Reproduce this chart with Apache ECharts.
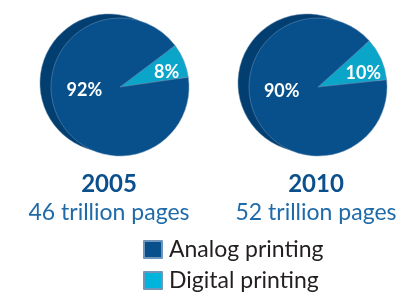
<!DOCTYPE html>
<html>
<head>
<meta charset="utf-8">
<script src="https://cdn.jsdelivr.net/npm/echarts@6/dist/echarts.min.js"></script>
<style>
  html, body { margin: 0; padding: 0; background: #fff; }
  #chart { width: 406px; height: 297px; }
</style>
</head>
<body>
<div id="chart"></div>
<script>
const years = ['2005', '2010'];
const totals = ['46 trillion pages', '52 trillion pages'];
const categories = ['Digital printing', 'Analog printing'];
const digital = [8, 10];
const analog = [92, 90];

const faceColor = '#07508b';
const edgeColor = '#033e70';
const digitalColor = '#0aa5c9';
const fontFamily = 'Lato, "Noto Sans", sans-serif';

const centersX = [120, 318];
const starts = [37, 42];
// label nudges so the numbers sit where the original puts them
const bigOffset = [[-1, -11], [-2, -11]];
const smallOffset = [[12, 0], [11, 1]];

const series = [];
years.forEach((y, i) => {
    // dark rim behind the face
    series.push({
        type: 'pie',
        silent: true,
        center: [centersX[i] - 11, 83],
        radius: [0, 69],
        startAngle: starts[i],
        label: { show: false },
        labelLine: { show: false },
        itemStyle: { color: edgeColor, borderColor: '#5d86ad', borderWidth: 0.5 },
        data: [{ name: 'rim', value: 100 }]
    });
    series.push({
        type: 'pie',
        name: y,
        center: [centersX[i], 87],
        radius: [0, 69],
        startAngle: starts[i],
        clockwise: true,
        itemStyle: { borderColor: '#6f95bb', borderWidth: 0.5 },
        label: {
            show: true,
            position: 'inner',
            color: '#fff',
            fontFamily: fontFamily,
            fontWeight: 'bold',
            fontSize: 18,
            formatter: '{c}%'
        },
        data: [
            { name: categories[0], value: digital[i], itemStyle: { color: digitalColor },
              label: { offset: smallOffset[i] } },
            { name: categories[1], value: analog[i], itemStyle: { color: faceColor },
              label: { offset: bigOffset[i] } }
        ]
    });
});

const option = {
    animation: false,
    title: years.map((y, i) => ({
        text: y,
        subtext: totals[i],
        left: [104, 311][i],
        top: 165,
        textAlign: 'center',
        itemGap: 2,
        textStyle: { color: '#0b4f8c', fontSize: 24, fontWeight: 'bold', fontFamily: fontFamily, lineHeight: 28 },
        subtextStyle: { color: '#1f6aa8', fontSize: 23, fontFamily: fontFamily, lineHeight: 26 }
    })),
    legend: {
        orient: 'vertical',
        left: 143,
        top: 238,
        height: 60,
        itemWidth: 18,
        itemHeight: 17,
        itemGap: 8,
        icon: 'rect',
        padding: 0,
        data: [
            { name: categories[1], itemStyle: { color: faceColor } },
            { name: categories[0], itemStyle: { color: '#00b4dc' } }
        ],
        textStyle: { color: '#231f20', fontSize: 23, fontFamily: fontFamily, lineHeight: 21, padding: [0, 0, 0, 2] }
    },
    series: series
};

const myChart = echarts.init(document.getElementById('chart'));
myChart.setOption(option);
</script>
</body>
</html>
